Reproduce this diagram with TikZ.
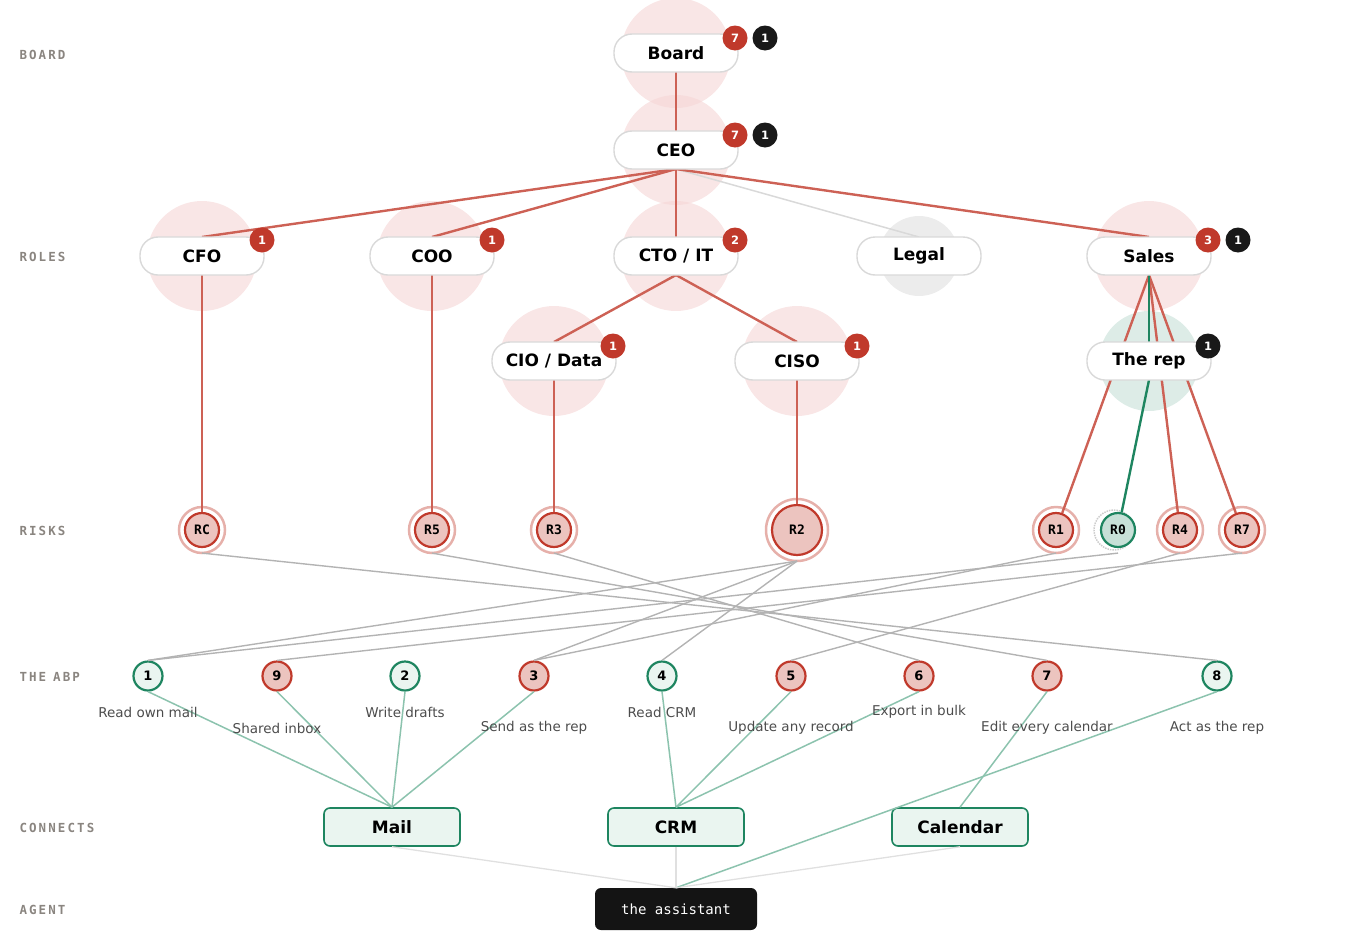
\documentclass[tikz,border=0pt]{standalone}
\usepackage{fontspec}
\setmainfont{DejaVu Sans}
\newfontfamily\lanefont{DejaVu Sans Mono}
\definecolor{riskred}{HTML}{C0392B}
\definecolor{linkred}{HTML}{CD6155}
\definecolor{halopink}{HTML}{F5D5D5}
\definecolor{okgreen}{HTML}{1E8560}
\definecolor{lightgreen}{HTML}{8CC3AE}
\definecolor{boxgreen}{HTML}{EAF5F0}
\definecolor{wire}{HTML}{B3B3B3}
\definecolor{lanegrey}{HTML}{8A8580}
\tikzset{
  pill/.style={draw=black!15,line width=1.4pt,fill=white,rounded corners=18pt,minimum width=124pt,minimum height=38pt,font=\fontsize{17}{19}\selectfont\bfseries},
  halo/.style={circle,fill=halopink,opacity=.6,minimum size=110pt},
  badge/.style={circle,fill=riskred,text=white,minimum size=25pt,inner sep=0pt,font=\fontsize{11.5}{12}\selectfont\bfseries},
  blackbadge/.style={badge,fill=black!90},
  risk/.style={circle,draw=riskred,line width=2.2pt,fill=riskred!30,minimum size=34pt,inner sep=0pt,font=\lanefont\fontsize{13}{14}\selectfont\bfseries},
  riskring/.style={circle,draw=riskred!40,line width=2.5pt,minimum size=46pt},
  abp/.style={circle,draw=okgreen,line width=2.2pt,fill=boxgreen,minimum size=29pt,inner sep=0pt,font=\fontsize{13}{14}\selectfont\bfseries},
  abpbad/.style={abp,draw=riskred,fill=riskred!30},
  abplabel/.style={font=\fontsize{13.5}{15}\selectfont,text=black!70},
  conn/.style={draw=okgreen,line width=1.6pt,fill=boxgreen,rounded corners=6pt,minimum width=136pt,minimum height=38pt,font=\fontsize{17}{19}\selectfont\bfseries},
  lane/.style={anchor=west,text=lanegrey,font=\lanefont\fontsize{12.5}{13}\selectfont\bfseries},
  orgline/.style={draw=linkred,line width=2.4pt},
  riskwire/.style={draw=wire,line width=1.4pt},
  connwire/.style={draw=lightgreen,line width=1.5pt},
}
\begin{document}
\begin{tikzpicture}[x=1pt,y=-1pt]
    \useasboundingbox (0,0) rectangle (1353,948);

    % lanes
    \node[lane] (lboard) at (16,55)  {B\,O\,A\,R\,D};
    \node[lane] (lroles) at (16,257) {R\,O\,L\,E\,S};
    \node[lane] (lrisks) at (16,531) {R\,I\,S\,K\,S};
    \node[lane] (labp)   at (16,677) {T\,H\,E\;\;A\,B\,P};
    \node[lane] (lconn)  at (16,828) {C\,O\,N\,N\,E\,C\,T\,S};
    \node[lane] (lagent) at (16,910) {A\,G\,E\,N\,T};

    % halos
    \foreach \hx/\hy in {676/53, 676/150, 202/256, 432/256, 676/256, 1149/256, 554/361, 797/361}
        \node[halo] at (\hx,\hy) {};
    \node[halo,fill=black!12,minimum size=80pt] at (919,256) {};
    \node[halo,fill=okgreen!25,minimum size=100pt] at (1149,361) {};

    % risks
    \foreach \name/\rx in {RC/202, R5/432, R3/554, R1/1056, R4/1180, R7/1242} {
        \node[riskring] at (\rx,530) {};
        \node[risk] (\name) at (\rx,530) {\name};
    }
    \node[riskring,minimum size=62pt] at (797,530) {};
    \node[risk,minimum size=50pt] (R2) at (797,530) {R2};
    \node[circle,draw=black!20,densely dotted,line width=1.5pt,minimum size=40pt] at (1114,530) {};
    \node[risk,draw=okgreen,fill=okgreen!25] (R0) at (1118,530) {R0};

    % org lines
    \coordinate (salesfoot) at (1149,275);
    \path[draw=black!15,line width=1.5pt] (676,169) -- (919,237);
    \path[orgline] (676,72) -- (676,131);
    \path[orgline] (676,169) -- (202,237);
    \path[orgline] (676,169) -- (432,237);
    \path[orgline] (676,169) -- (676,237);
    \path[orgline] (676,169) -- (1149,237);
    \path[orgline] (676,275) -- (554,342);
    \path[orgline] (676,275) -- (797,342);
    \path[orgline] (202,275) -- (RC);
    \path[orgline] (432,275) -- (R5);
    \path[orgline] (554,380) -- (R3);
    \path[orgline] (797,380) -- (R2);
    \path[orgline] (salesfoot) -- (R1);
    \path[orgline] (salesfoot) -- (R4);
    \path[orgline] (salesfoot) -- (R7);
    \path[draw=okgreen,line width=2.4pt] (salesfoot) -- (1149,342);
    \path[draw=okgreen,line width=2.4pt] (1149,380) -- (R0);

    % pills
    \node[pill] (board) at (676,53)  {Board};
    \node[pill] (ceo)   at (676,150) {CEO};
    \node[pill] (cfo)   at (202,256) {CFO};
    \node[pill] (coo)   at (432,256) {COO};
    \node[pill] (cto)   at (676,256) {CTO / IT};
    \node[pill] (legal) at (919,256) {Legal};
    \node[pill] (sales) at (1149,256) {Sales};
    \node[pill] (cio)   at (554,361) {CIO / Data};
    \node[pill] (ciso)  at (797,361) {CISO};
    \node[pill] (rep)   at (1149,361) {The rep};

    % badges
    \node[badge] at (735,38) {7};   \node[blackbadge] at (765,38) {1};
    \node[badge] at (735,135) {7};  \node[blackbadge] at (765,135) {1};
    \node[badge] at (262,240) {1};
    \node[badge] at (492,240) {1};
    \node[badge] at (735,240) {2};
    \node[badge] at (1208,240) {3}; \node[blackbadge] at (1238,240) {1};
    \node[badge] at (613,346) {1};
    \node[badge] at (857,346) {1};
    \node[blackbadge] at (1208,346) {1};

    % the abp
    \node[abp]    (a1) at (148,676)  {1};
    \node[abpbad] (a9) at (277,676)  {9};
    \node[abp]    (a2) at (405,676)  {2};
    \node[abpbad] (a3) at (534,676)  {3};
    \node[abp]    (a4) at (662,676)  {4};
    \node[abpbad] (a5) at (791,676)  {5};
    \node[abpbad] (a6) at (919,676)  {6};
    \node[abpbad] (a7) at (1047,676) {7};
    \node[abp]    (a8) at (1217,676) {8};

    % risk wires
    \foreach \r/\a in {RC/a8, R5/a7, R3/a6, R2/a1, R2/a3, R2/a4, R1/a3, R0/a1, R4/a5, R7/a9}
        \path[riskwire] ([yshift=-5pt]\r.south) -- (\a.north);

    % connects and agent
    \node[conn] (mail) at (392,827) {Mail};
    \node[conn] (crm)  at (676,827) {CRM};
    \node[conn] (cal)  at (960,827) {Calendar};
    \node[fill=black!92,rounded corners=6pt,minimum width=162pt,minimum height=42pt,text=white,font=\lanefont\fontsize{14}{15}\selectfont] (agent) at (676,909) {the assistant};

    \foreach \a in {a1,a9,a2,a3} \path[connwire] (\a.south) -- (mail.north);
    \foreach \a in {a4,a5,a6} \path[connwire] (\a.south) -- (crm.north);
    \path[connwire] (a7.south) -- (cal.north);
    \path[connwire] (a8.south) -- (agent.north);
    \foreach \c in {mail,crm,cal} \path[draw=black!12,line width=1.3pt] (\c.south) -- (agent.north);

    % abp labels
    \foreach \a/\t/\dy in {a1/Read own mail/36, a9/Shared inbox/52, a2/Write drafts/36, a3/Send as the rep/52, a4/Read CRM/36, a5/Update any record/52, a6/Export in bulk/36, a7/Edit every calendar/52, a8/Act as the rep/52}
        \node[abplabel] at ([yshift=-\dy pt]\a.center) {\t};

\end{tikzpicture}
\end{document}
